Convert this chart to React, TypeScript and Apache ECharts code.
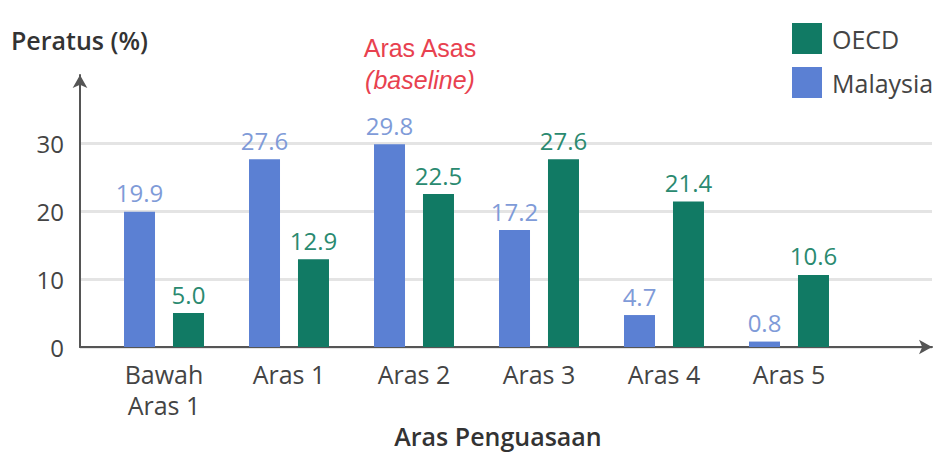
import React, { useEffect, useRef } from "react";
import * as echarts from "echarts";

const categories = ["Bawah\nAras 1", "Aras 1", "Aras 2", "Aras 3", "Aras 4", "Aras 5"];
const malaysia = [19.9, 27.6, 29.8, 17.2, 4.7, 0.8];
const oecd = [5.0, 12.9, 22.5, 27.6, 21.4, 10.6];
const yTicks = [0, 10, 20, 30];

const FONT = "'Open Sans', 'Noto Sans', sans-serif";
const TITLE_FONT = "'Liberation Sans', Arial, sans-serif";
const BLUE = "#5b80d3";
const GREEN = "#117a64";

export default function App() {
  const ref = useRef<HTMLDivElement>(null);
  useEffect(() => {
    if (!ref.current) return;
    const chart = echarts.init(ref.current, undefined, { renderer: "svg" });
    const yMax = yTicks[yTicks.length - 1];
    chart.setOption({
      animation: false,
      textStyle: { fontFamily: FONT },
      legend: {
        data: ["OECD", "Malaysia"],
        orient: "vertical",
        left: 792,
        top: 23,
        padding: 0,
        itemWidth: 30,
        itemHeight: 31,
        itemGap: 13,
        icon: "rect",
        textStyle: { fontSize: 25, color: "#444", fontFamily: FONT, padding: [0, 0, 0, 5] },
      },
      grid: [
        { left: 80, right: 11, top: 75, bottom: 107 },
        { left: 80, right: 11, top: 143, bottom: 107 },
        { left: 101.5, right: 91.5, top: 143, bottom: 107 },
      ],
      xAxis: [
        {
          type: "value", gridIndex: 0, min: 0, max: 1,
          axisLine: { show: true, lineStyle: { color: "#555", width: 2 }, symbol: ["none", "arrow"], symbolSize: [11, 13] },
          axisTick: { show: false }, axisLabel: { show: false }, splitLine: { show: false },
        },
        {
          type: "value", gridIndex: 1, min: 0, max: 1, show: false,
        },
        {
          type: "category", gridIndex: 2, data: categories,
          axisLine: { show: false }, axisTick: { show: false },
          axisLabel: { color: "#444", fontSize: 25, lineHeight: 31, margin: 11, fontFamily: FONT },
        },
      ],
      yAxis: [
        {
          type: "value", gridIndex: 0, min: 0, max: 40,
          axisLine: { show: true, lineStyle: { color: "#555", width: 2 }, symbol: ["none", "arrow"], symbolSize: [11, 13] },
          axisTick: { show: false }, axisLabel: { show: false }, splitLine: { show: false },
        },
        {
          type: "value", gridIndex: 1, min: 0, max: yMax, interval: 10,
          axisLine: { show: false }, axisTick: { show: false },
          axisLabel: { color: "#444", fontSize: 24, margin: 16, fontFamily: FONT },
          splitLine: { show: true, lineStyle: { color: "#e4e4e4", width: 3 } },
        },
        {
          type: "value", gridIndex: 2, min: 0, max: yMax, show: false,
        },
      ],
      series: [
        {
          name: "Malaysia", type: "bar", xAxisIndex: 2, yAxisIndex: 2, data: malaysia,
          barWidth: 31, barGap: "58%",
          itemStyle: { color: BLUE },
          label: {
            show: true, position: "top", distance: 7, color: "#7f9bd8", fontSize: 24, fontFamily: FONT,
            formatter: (p: any) => Number(p.value).toFixed(1),
          },
        },
        {
          name: "OECD", type: "bar", xAxisIndex: 2, yAxisIndex: 2, data: oecd,
          barWidth: 31, barGap: "58%",
          itemStyle: { color: GREEN },
          label: {
            show: true, position: "top", distance: 7, color: "#2a8a70", fontSize: 24, fontFamily: FONT,
            formatter: (p: any) => Number(p.value).toFixed(1),
          },
        },
      ],
      graphic: [
        {
          type: "text", left: 11, top: 27,
          style: { text: "Peratus (%)", fontSize: 25, fontWeight: 600, fill: "#333", fontFamily: FONT },
        },
        {
          type: "text", x: 420, y: 48,
          style: { text: "Aras Asas", fontSize: 25, fill: "#e8414f", fontFamily: TITLE_FONT, align: "center", verticalAlign: "middle" },
        },
        {
          type: "text", x: 420, y: 80,
          style: { text: "(baseline)", fontSize: 25, fontStyle: "italic", fill: "#e8414f", fontFamily: TITLE_FONT, align: "center", verticalAlign: "middle" },
        },
        {
          type: "text", x: 498, y: 436,
          style: { text: "Aras Penguasaan", fontSize: 25, fontWeight: 600, fill: "#333", fontFamily: FONT, align: "center", verticalAlign: "middle" },
        },
      ],
    });
    return () => chart.dispose();
  }, []);
  return <div ref={ref} style={{ width: 943, height: 454, position: "absolute", left: 0, top: 0 }} />;
}
